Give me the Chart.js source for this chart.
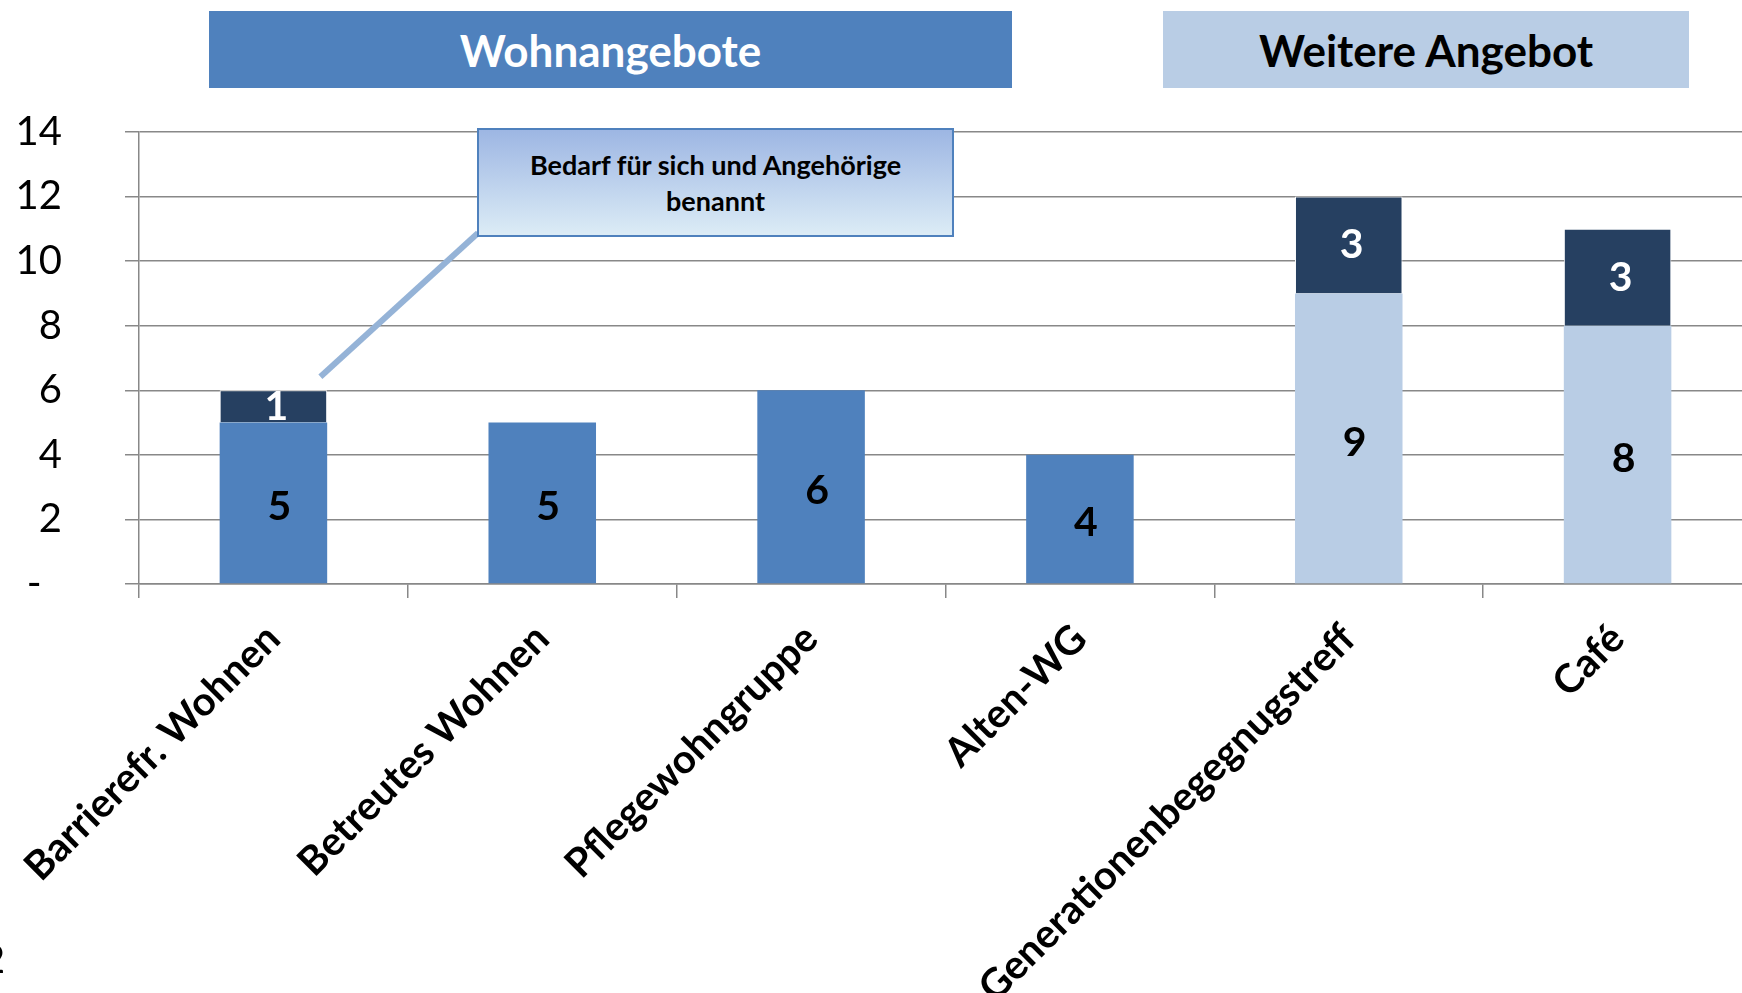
<!DOCTYPE html>
<html lang="de">
<head>
<meta charset="utf-8">
<title>Wohnangebote und weitere Angebote</title>
<script src="https://cdn.jsdelivr.net/npm/chart.js@4.4.1/dist/chart.umd.min.js"></script>
<style>
    body { margin: 0; background: #fff; overflow: hidden; font-family: Lato, sans-serif; }
    #wrap { position: relative; width: 1742px; height: 993px; overflow: hidden; }
    #chart { position: absolute; left: 0; top: 0; }
    .header {
        position: absolute; top: 11px; height: 77px;
        display: flex; align-items: center; justify-content: center;
        font-weight: bold; font-size: 44px;
    }
    #head-wohnen { left: 209px; width: 803px; background: #4f81bd; color: #fff; }
    #head-weitere { left: 1163px; width: 526px; background: #b9cde5; color: #000; }
    #callout {
        position: absolute; left: 477px; top: 128px; width: 473px; height: 105px;
        border: 2px solid #4f81bd;
        background: linear-gradient(#9db6e3, #dcecf6);
        display: flex; align-items: center; justify-content: center; text-align: center;
        font-weight: bold; font-size: 27px; line-height: 36px; color: #000;
    }
    #pagenum { position: absolute; left: -17px; top: 935px; font-size: 38px; color: #000; }
</style>
</head>
<body>
<div id="wrap">
    <canvas id="chart" width="1752" height="993"></canvas>
    <div class="header" id="head-wohnen">Wohnangebote</div>
    <div class="header" id="head-weitere">Weitere Angebot</div>
    <div id="callout">Bedarf für sich und Angehörige<br>benannt</div>
    <div id="pagenum">2</div>
</div>
<script>
const categories = ["Barrierefr. Wohnen", "Betreutes Wohnen", "Pflegewohngruppe", "Alten-WG", "Generationenbegegnugstreff", "Café"];
const wohnWerte = [5, 5, 6, 4, null, null];
const weitereWerte = [null, null, null, null, 9, 8];
const angehoerigeWerte = [1, null, null, null, 3, 3];
const yTicks = [0, 2, 4, 6, 8, 10, 12, 14];

Chart.defaults.font.family = "Lato, 'Open Sans', sans-serif";

// value labels centred inside each bar segment
const barLabels = {
    id: "barLabels",
    afterDatasetsDraw(chart) {
        const ctx = chart.ctx;
        ctx.save();
        ctx.font = "bold 41px Lato";
        ctx.textAlign = "center";
        ctx.textBaseline = "middle";
        chart.data.datasets.forEach((ds, i) => {
            const meta = chart.getDatasetMeta(i);
            meta.data.forEach((bar, j) => {
                const v = ds.data[j];
                if (v === null || v === 0) return;
                ctx.fillStyle = ds.labelColor;
                ctx.fillText(String(v), bar.x + ds.labelShift, (bar.y + bar.base) / 2 + ds.labelDrop);
            });
        });
        ctx.restore();
    }
};

// connector from the note box down to the first bar
const calloutLine = {
    id: "calloutLine",
    afterDatasetsDraw(chart) {
        const x = chart.scales.x, y = chart.scales.y;
        const ctx = chart.ctx;
        ctx.save();
        ctx.strokeStyle = "#95b3d7";
        ctx.lineWidth = 6;
        ctx.beginPath();
        ctx.moveTo(478, 233);
        ctx.lineTo(x.getPixelForValue(0) + 47, y.getPixelForValue(6.42));
        ctx.stroke();
        ctx.restore();
    }
};

new Chart(document.getElementById("chart").getContext("2d"), {
    type: "bar",
    data: {
        labels: categories,
        datasets: [
            { label: "Wohnangebote", data: wohnWerte, backgroundColor: "#4f81bd",
              labelColor: "#000", labelShift: 6, labelDrop: 4 },
            { label: "Weitere Angebote", data: weitereWerte, backgroundColor: "#b9cde5",
              labelColor: "#000", labelShift: 6, labelDrop: 4 },
            { label: "Angehörige", data: angehoerigeWerte, backgroundColor: "#264061",
              borderColor: "#fff", borderWidth: 1, labelColor: "#fff", labelShift: 3, labelDrop: 0 }
        ]
    },
    options: {
        responsive: false,
        animation: false,
        layout: { padding: { top: 132, left: 0, right: 0, bottom: 0 } },
        plugins: { legend: { display: false }, tooltip: { enabled: false } },
        datasets: { bar: { barPercentage: 0.4, categoryPercentage: 1 } },
        scales: {
            x: {
                stacked: true,
                afterFit: s => { s.height = 409; },
                grid: { drawOnChartArea: false, tickLength: 14, color: "#888", lineWidth: 1.5 },
                border: { color: "#888", width: 1.5 },
                ticks: {
                    autoSkip: false, maxRotation: 45, minRotation: 45, padding: 17,
                    color: "#000", font: { size: 40, weight: "bold" }
                }
            },
            y: {
                stacked: true,
                min: 0, max: 14,
                afterFit: s => { s.width = 139; },
                afterBuildTicks: s => { s.ticks = yTicks.map(v => ({ value: v })); },
                grid: { tickLength: 14, color: "#888", lineWidth: 1.5 },
                border: { color: "#888", width: 1.5 },
                ticks: {
                    padding: 63, color: "#000", font: { size: 40 },
                    callback: v => v === 0 ? "-  " : String(v)
                }
            }
        }
    },
    plugins: [barLabels, calloutLine]
});
</script>
</body>
</html>
